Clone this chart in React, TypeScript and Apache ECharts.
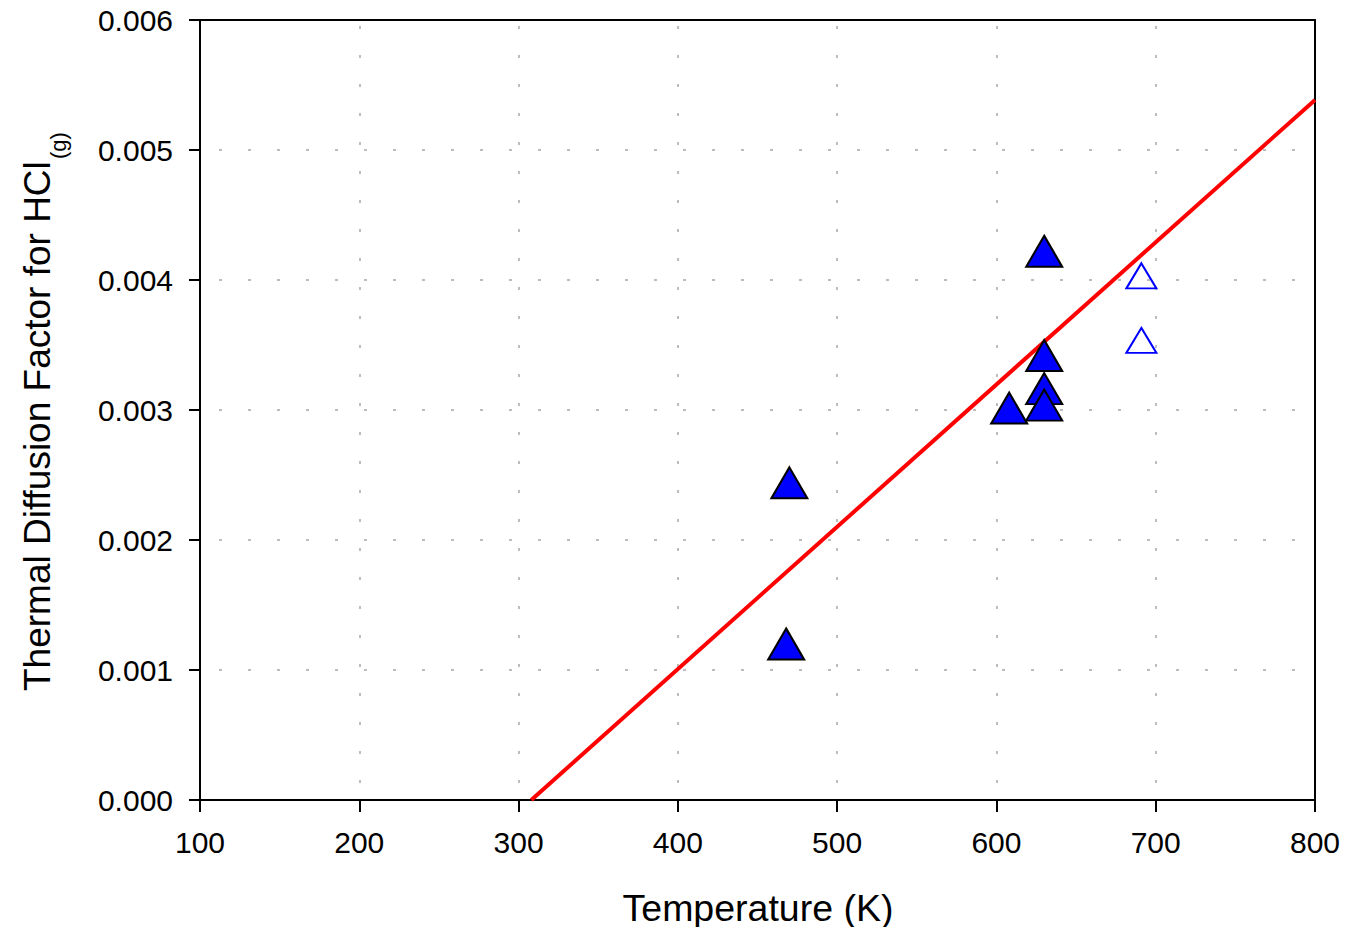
import React, { useEffect, useRef } from "react";
import * as echarts from "echarts";

const xTicks = [100, 200, 300, 400, 500, 600, 700, 800];
const yTicks = [0, 0.001, 0.002, 0.003, 0.004, 0.005, 0.006];

const filledT = [470, 468, 608, 630, 630, 630, 630];
const filledV = [0.00244, 0.0012, 0.003015, 0.004221, 0.003419, 0.003164, 0.003038];

const openT = [691, 691];
const openV = [0.004032, 0.003535];

const fitT = [308, 800];
const fitV = [0, 0.005385];

const FONT = '"Liberation Sans", Arial, Helvetica, sans-serif';

export default function App() {
  const ref = useRef<HTMLDivElement>(null);
  useEffect(() => {
    if (!ref.current) return;
    const chart = echarts.init(ref.current, null, { renderer: "svg" });
    const gridDot = { color: "#bdbdbd", width: 2, type: [3, 26] as number[] };
    const xMin = xTicks[0];
    const xMax = xTicks[xTicks.length - 1];
    const yMin = yTicks[0];
    const yMax = yTicks[yTicks.length - 1];
    chart.setOption({
      animation: false,
      backgroundColor: "#ffffff",
      grid: {
        left: 200,
        right: 43,
        top: 20,
        bottom: 127,
        show: false,
      },
      xAxis: [
        {
          type: "value",
          min: xMin,
          max: xMax,
          interval: 100,
          position: "bottom",
          axisLine: { show: true, onZero: false, lineStyle: { color: "#000", width: 2 } },
          axisTick: { show: true, length: 12, lineStyle: { color: "#000", width: 2 } },
          axisLabel: { color: "#000", fontSize: 30, fontFamily: FONT, margin: 27 },
          splitLine: { show: true, lineStyle: { ...gridDot, dashOffset: 23 } },
        },
        {
          type: "value",
          min: xMin,
          max: xMax,
          interval: 100,
          position: "top",
          axisLine: { show: true, onZero: false, lineStyle: { color: "#000", width: 2 } },
          axisTick: { show: false },
          axisLabel: { show: false },
          splitLine: { show: false },
        },
      ],
      yAxis: [
        {
          type: "value",
          min: yMin,
          max: yMax,
          interval: 0.001,
          position: "left",
          axisLine: { show: true, onZero: false, lineStyle: { color: "#000", width: 2 } },
          axisTick: { show: true, length: 11, lineStyle: { color: "#000", width: 2 } },
          axisLabel: {
            color: "#000",
            fontSize: 30,
            fontFamily: FONT,
            margin: 27,
            formatter: (v: number) => v.toFixed(3),
          },
          splitLine: { show: true, lineStyle: { ...gridDot, dashOffset: 9.8 } },
        },
        {
          type: "value",
          min: yMin,
          max: yMax,
          interval: 0.001,
          position: "right",
          axisLine: { show: true, onZero: false, lineStyle: { color: "#000", width: 2 } },
          axisTick: { show: false },
          axisLabel: { show: false },
          splitLine: { show: false },
        },
      ],
      graphic: [
        {
          type: "text",
          x: 758,
          y: 907.5,
          style: {
            text: "Temperature (K)",
            font: `37.5px ${FONT}`,
            lineHeight: 36,
            fill: "#000",
            align: "center",
            verticalAlign: "middle",
          },
        },
        {
          type: "text",
          x: 37,
          y: 691,
          rotation: Math.PI / 2,
          style: {
            text: "Thermal Diffusion Factor for HCl",
            font: `37px ${FONT}`,
            fill: "#000",
            align: "left",
            verticalAlign: "middle",
          },
        },
        {
          type: "text",
          x: 58,
          y: 159,
          rotation: Math.PI / 2,
          style: {
            text: "(g)",
            font: `22px ${FONT}`,
            fill: "#000",
            align: "left",
            verticalAlign: "middle",
          },
        },
      ],
      series: [
        {
          type: "line",
          data: fitT.map((t, i) => [t, fitV[i]]),
          symbol: "none",
          lineStyle: { color: "#ff0000", width: 4 },
          z: 2,
        },
        {
          type: "scatter",
          data: filledT.map((t, i) => [t, filledV[i]]),
          symbol: "triangle",
          symbolSize: [36, 31],
          itemStyle: { color: "#0000ff", borderColor: "#000", borderWidth: 2, opacity: 1 },
          z: 3,
        },
        {
          type: "scatter",
          data: openT.map((t, i) => [t, openV[i]]),
          symbol: "triangle",
          symbolSize: [30, 25],
          itemStyle: { color: "transparent", borderColor: "#0000ff", borderWidth: 2, opacity: 1 },
          z: 3,
        },
      ],
    });
    return () => chart.dispose();
  }, []);
  return (
    <div
      ref={ref}
      style={{ position: "absolute", left: 0, top: 0, width: 1358, height: 927 }}
    />
  );
}
